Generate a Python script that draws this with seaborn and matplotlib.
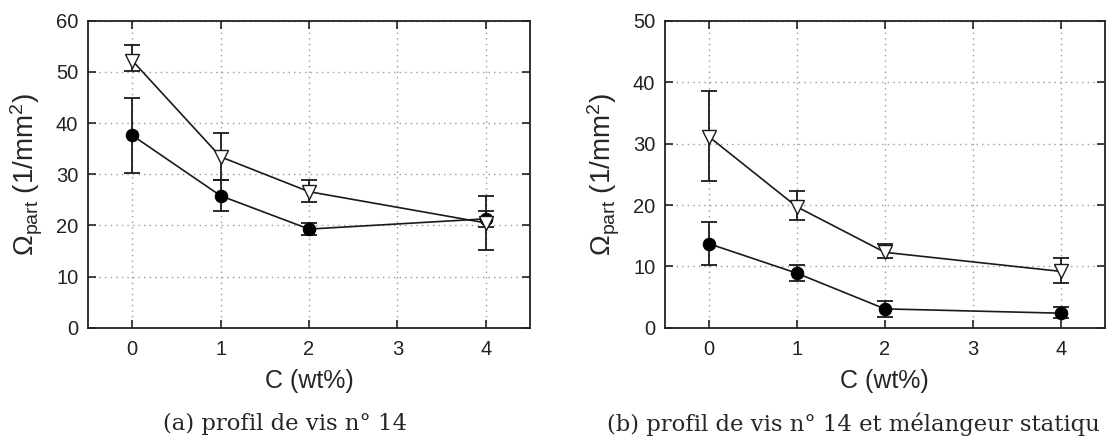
import matplotlib
matplotlib.use('Agg')
import matplotlib.pyplot as plt
import numpy as np
import pandas as pd
import seaborn as sns

# Data
conc = [0, 1, 2, 4]
tick_labels = ['0', '1', '2', '3', '4']

# (a) profil de vis n 14
a_circle = [37.6, 25.8, 19.3, 21.3]
a_circle_lo = [30.2, 22.9, 18.1, 15.2]
a_circle_hi = [44.8, 28.9, 20.5, 25.7]
a_tri = [52.2, 33.4, 26.6, 20.5]
a_tri_lo = [50.1, 28.9, 24.6, 19.8]
a_tri_hi = [55.3, 38.1, 28.8, 22.8]

# (b) profil de vis n 14 et melangeur statique
b_circle = [13.7, 8.9, 3.1, 2.4]
b_circle_lo = [10.2, 7.6, 1.8, 1.6]
b_circle_hi = [17.2, 10.2, 4.4, 3.4]
b_tri = [31.1, 19.7, 12.3, 9.2]
b_tri_lo = [23.9, 17.6, 11.4, 7.3]
b_tri_hi = [38.5, 22.2, 13.6, 11.3]

# captions as visible in the picture (the second one is cut at the right edge)
cap_a = '(a) profil de vis n° 14'
cap_b = '(b) profil de vis n° 14 et mélangeur statiqu'

sns.set_style('ticks')
plt.rcParams['font.family'] = ['Liberation Sans', 'DejaVu Sans']
plt.rcParams['mathtext.fontset'] = 'custom'
plt.rcParams['mathtext.rm'] = 'Liberation Sans'
plt.rcParams['mathtext.it'] = 'Liberation Sans:italic'

fig = plt.figure(figsize=(11.06, 4.48), dpi=100)
ax1 = fig.add_axes([0.0796, 0.268, 0.3996, 0.686])
ax2 = fig.add_axes([0.6013, 0.268, 0.3975, 0.686])

ink = '#1a1a1a'


def draw_panel(ax, circ, clo, chi, tri, tlo, thi, ymax):
    df = pd.DataFrame({'C': conc * 2,
                       'val': circ + tri,
                       'serie': ['circle'] * 4 + ['tri'] * 4})
    ax.errorbar(conc, circ,
                yerr=[np.array(circ) - np.array(clo), np.array(chi) - np.array(circ)],
                fmt='none', ecolor=ink, elinewidth=1.3, capsize=6, capthick=1.3, zorder=2)
    ax.errorbar(conc, tri,
                yerr=[np.array(tri) - np.array(tlo), np.array(thi) - np.array(tri)],
                fmt='none', ecolor=ink, elinewidth=1.3, capsize=6, capthick=1.3, zorder=2)
    sns.lineplot(data=df[df.serie == 'circle'], x='C', y='val', ax=ax, color=ink,
                 lw=1.2, marker='o', markersize=9, markerfacecolor='black',
                 markeredgecolor='black', zorder=3)
    sns.lineplot(data=df[df.serie == 'tri'], x='C', y='val', ax=ax, color=ink,
                 lw=1.2, marker='v', markersize=10, markerfacecolor='white',
                 markeredgecolor=ink, markeredgewidth=1.0, zorder=4)
    ax.set_xlim(-0.5, 4.5)
    ax.set_ylim(0, ymax)
    ax.set_xticks([0, 1, 2, 3, 4])
    ax.set_xticklabels(tick_labels)
    ax.set_yticks(np.arange(0, ymax + 1, 10))
    ax.grid(True, linestyle=(0, (1, 3)), color='#999999', linewidth=1.0)
    ax.tick_params(direction='in', length=6, width=1.2, top=True, right=True,
                   labelsize=14.5, colors='#222222')
    ax.tick_params(axis='x', pad=9)
    ax.tick_params(axis='y', pad=7)
    for s in ax.spines.values():
        s.set_linewidth(1.3)
        s.set_color('#222222')
    ax.set_xlabel('C (wt%)', fontsize=18, labelpad=7)
    ax.set_ylabel(r'$\Omega_{\rm part}$ (1/mm$^2$)', fontsize=20, labelpad=8)


draw_panel(ax1, a_circle, a_circle_lo, a_circle_hi, a_tri, a_tri_lo, a_tri_hi, 60)
draw_panel(ax2, b_circle, b_circle_lo, b_circle_hi, b_tri, b_tri_lo, b_tri_hi, 50)

fig.text(0.2577, 0.0536, cap_a, ha='center', va='center',
         fontsize=16.4, family=['DejaVu Serif'])
fig.text(0.5488, 0.0536, cap_b, ha='left',
         va='center', fontsize=16.4, family=['DejaVu Serif'])

fig.savefig('out.png', dpi=100)
